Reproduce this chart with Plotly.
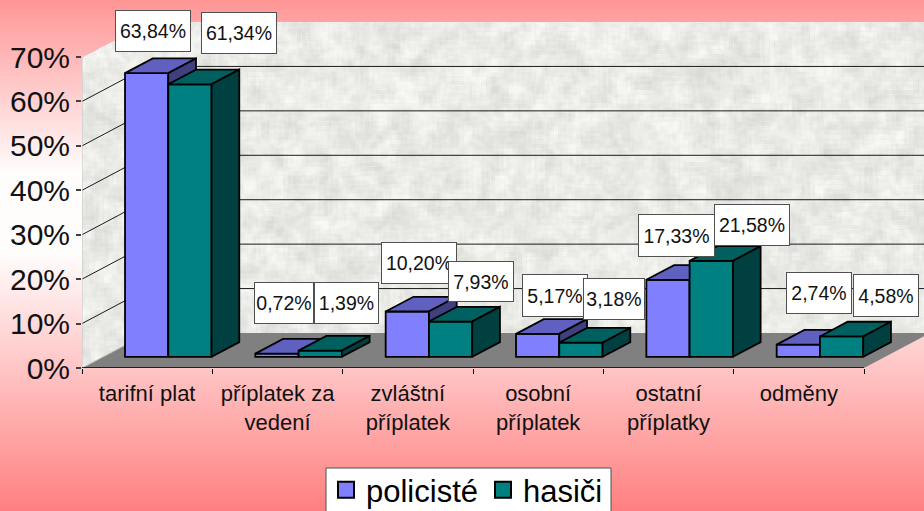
import base64, struct, zlib
import numpy as np
import plotly.graph_objects as go

categories = ["tarifní plat", "příplatek za<br>vedení", "zvláštní<br>příplatek",
              "osobní<br>příplatek", "ostatní<br>příplatky", "odměny"]
policiste = [63.84, 0.72, 10.20, 5.17, 17.33, 2.74]
hasici = [61.34, 1.39, 7.93, 3.18, 21.58, 4.58]
y_ticks = [0, 10, 20, 30, 40, 50, 60, 70]

W, H = 924, 511
L, R, T, B = 82, 864, 57, 368
PX_X = (R - L) / 6.0
PX_Y = (B - T) / 70.0
WALL_DX, WALL_DY = 66 / PX_X, 35 / PX_Y
F0 = 0.32
FD = 0.42
BAR_W = 0.332
FONT = "Liberation Sans"
X_MAX = (W - L) / PX_X - 0.5   # plot area runs to the right page edge


def background_png():
    yy, xx = np.mgrid[0:H, 0:W].astype(float)
    stops_y = [0, 170, 255, 511]
    stops_g = [150, 252, 252, 128]
    g = np.interp(yy, stops_y, stops_g)
    img = np.stack([np.full_like(g, 255.0), g, g], axis=-1)

    def hash_noise(cell):
        cy, cx = np.floor(yy / cell), np.floor(xx / cell)
        n = np.sin(cx * 12.9898 + cy * 78.233) * 43758.5453
        n = n - np.floor(n)
        for axis in (0, 1):
            n = (n + np.roll(n, cell // 2 + 1, axis) + np.roll(n, -(cell // 2 + 1), axis)) / 3
        return n - 0.5

    tex = 234 + 30 * hash_noise(9) + 22 * hash_noise(3)
    tex = np.clip(tex, 205, 248)
    px0, px1 = L, L + 66
    top_edge = T - (xx - px0) * 35 / 66
    bot_edge = B - (xx - px0) * 35 / 66
    left_wall = (xx >= px0) & (xx < px1) & (yy >= top_edge) & (yy <= bot_edge)
    back_wall = (xx >= px1) & (yy >= T - 35) & (yy <= B - 35)
    mask = left_wall | back_wall
    for i, shade in enumerate((tex, tex, tex * 0.985)):
        img[..., i][mask] = shade[mask]
    arr = np.clip(img, 0, 255).astype(np.uint8)
    raw = b"".join(b"\x00" + arr[r].tobytes() for r in range(H))

    def chunk(tag, data):
        return (struct.pack(">I", len(data)) + tag + data +
                struct.pack(">I", zlib.crc32(tag + data) & 0xFFFFFFFF))

    png = (b"\x89PNG\r\n\x1a\n" + chunk(b"IHDR", struct.pack(">IIBBBBB", W, H, 8, 2, 0, 0, 0)) +
           chunk(b"IDAT", zlib.compress(raw, 9)) + chunk(b"IEND", b""))
    return "data:image/png;base64," + base64.b64encode(png).decode()


def poly(pts):
    return [p[0] for p in pts] + [None], [p[1] for p in pts] + [None]


def merged(polys):
    xs, ys = [], []
    for pts in polys:
        a, b = poly(pts + [pts[0]])
        xs += a
        ys += b
    return xs, ys


def faces(values, series_index):
    tops, sides = [], []
    fx, fy = F0 * WALL_DX, F0 * WALL_DY
    dx, dy = FD * WALL_DX, FD * WALL_DY
    for c, v in enumerate(values):
        x0 = c + fx - BAR_W + series_index * BAR_W
        x1 = x0 + BAR_W
        y0, y1 = fy, fy + v
        tops.append([(x0, y1), (x1, y1), (x1 + dx, y1 + dy), (x0 + dx, y1 + dy)])
        sides.append([(x1, y0), (x1 + dx, y0 + dy), (x1 + dx, y1 + dy), (x1, y1)])
    return tops, sides


fig = go.Figure()
back_x0, back_x1 = -0.5 + WALL_DX, 5.5 + WALL_DX

# floor
fx, fy = merged([[(-0.5, 0), (5.5, 0), (back_x1, WALL_DY), (back_x0, WALL_DY)]])
fig.add_trace(go.Scatter(x=fx, y=fy, mode="lines", fill="toself", fillcolor="#808080",
                         line=dict(color="#808080", width=0), cliponaxis=False,
                         hoverinfo="skip", showlegend=False))

# gridlines on the walls
gx, gy = [], []
for t in y_ticks[1:-1]:
    gx += [-0.5, back_x0, back_x1, None]
    gy += [t, t + WALL_DY, t + WALL_DY, None]
fig.add_trace(go.Scatter(x=gx, y=gy, mode="lines", line=dict(color="#1a1a1a", width=1),
                         cliponaxis=False, hoverinfo="skip", showlegend=False))
# wall rim
rim_top = y_ticks[-1]
fig.add_trace(go.Scatter(
    x=[-0.5, -0.5, back_x0, None, -0.5, back_x0],
    y=[0, rim_top, rim_top + WALL_DY, None, 0, WALL_DY],
    mode="lines", line=dict(color="#c4c4c4", width=1), cliponaxis=False,
    hoverinfo="skip", showlegend=False))
fig.add_trace(go.Scatter(
    x=[back_x0, back_x1], y=[rim_top + WALL_DY, rim_top + WALL_DY],
    mode="lines", line=dict(color="#555555", width=1), cliponaxis=False,
    hoverinfo="skip", showlegend=False))
# front floor edge (x-axis line)
fig.add_trace(go.Scatter(x=[-0.5, 5.5], y=[0, 0], mode="lines",
                         line=dict(color="#000000", width=1.5), cliponaxis=False,
                         hoverinfo="skip", showlegend=False))

styles = [("policisté", policiste, "#8080FF", "#6060C0", "#404080", 1),
          ("hasiči", hasici, "#008080", "#006060", "#004040", 2)]
EDGE = dict(color="#000000", width=1.8)
for idx, (name, vals, front, top, side, z) in enumerate(styles):
    xpos = [c + F0 * WALL_DX - BAR_W / 2 + idx * BAR_W for c in range(len(vals))]
    fig.add_trace(go.Bar(x=xpos, y=vals, base=[F0 * WALL_DY] * len(vals), width=BAR_W,
                         marker=dict(color=front, line=EDGE), name=name, zorder=z,
                         cliponaxis=False, showlegend=False,
                         hovertemplate=name + ": %{y:.2f}%<extra></extra>"))
    tops, sides = faces(vals, idx)
    for polys, colour in ((tops, top), (sides, side)):
        px, py = merged(polys)
        fig.add_trace(go.Scatter(x=px, y=py, mode="lines", fill="toself", fillcolor=colour,
                                 line=EDGE, zorder=z, cliponaxis=False,
                                 hoverinfo="skip", showlegend=False))
    fig.add_trace(go.Scatter(x=[None], y=[None], mode="markers", name=name, xaxis="x2",
                             marker=dict(symbol="square", size=16, color=front,
                                         line=dict(color="#000000", width=2))))

fmt = lambda v: f"{v:.2f}".replace(".", ",") + "%"
label_text = [fmt(v) for pair in zip(policiste, hasici) for v in pair]
label_boxes = [(115, 191, 10, 52), (201, 277, 12, 54), (254, 314, 282, 324), (314, 379, 282, 324),
               (381, 457, 242, 284), (448, 514, 261, 302), (522, 588, 274, 317), (583, 645, 278, 320),
               (638, 715, 214, 257), (714, 790, 204, 246), (786, 852, 272, 314), (853, 919, 274, 317)]
PW = W - L
annotations = []
for text, (x0, x1, y0, y1) in zip(label_text, label_boxes):
    annotations.append(dict(text=text, xref="paper", yref="paper",
                            x=((x0 + x1) / 2 - L) / PW, y=(B - (y0 + y1) / 2) / (B - T),
                            xanchor="center", yanchor="middle", showarrow=False,
                            width=x1 - x0 - 2, height=y1 - y0 - 2, borderpad=0,
                            bgcolor="#FFFFFF", bordercolor="#505050", borderwidth=1,
                            font=dict(family=FONT, size=19.5, color="#111111")))

legend_box = dict(type="rect", xref="paper", yref="paper", layer="above",
                  x0=(326 - L) / PW, x1=(611 - L) / PW,
                  y0=(B - 513) / (B - T), y1=(B - 468) / (B - T),
                  fillcolor="#FFFFFF", line=dict(color="#505050", width=1))

fig.update_layout(
    width=W, height=H, autosize=False,
    margin=dict(l=L, r=0, t=T, b=H - B, autoexpand=False),
    paper_bgcolor="rgba(0,0,0,0)", plot_bgcolor="rgba(0,0,0,0)",
    barmode="overlay", annotations=annotations, shapes=[legend_box],
    images=[dict(source=background_png(), xref="paper", yref="paper", layer="below",
                 x=-L / PW, y=B / (B - T), sizex=W / PW, sizey=H / (B - T),
                 sizing="stretch", xanchor="left", yanchor="top")],
    xaxis=dict(range=[-0.5, X_MAX], tickmode="array", tickvals=[i - 0.5 for i in range(7)],
               ticktext=[""] * 7, ticks="outside", ticklen=5, tickwidth=1, tickcolor="#000000",
               showline=False, showgrid=False, zeroline=False),
    xaxis2=dict(range=[-0.5, X_MAX], overlaying="x", side="bottom", tickmode="array",
                tickvals=list(range(6)), ticktext=categories, ticks="", showgrid=False,
                zeroline=False, showline=False, tickangle=0, ticklabelstandoff=10,
                tickfont=dict(family=FONT, size=22, color="#111111")),
    yaxis=dict(range=[0, 70], tickmode="array", tickvals=y_ticks, ticktext=[f"{t}%" for t in y_ticks],
               ticks="outside", ticklen=5, tickwidth=1.5, tickcolor="#404040",
               showline=True, linecolor="#a0a0a0", linewidth=1, showgrid=False, zeroline=False,
               tickfont=dict(family=FONT, size=30, color="#111111")),
    legend=dict(orientation="h", xref="paper", yref="paper", x=(326 - L) / PW,
                y=(B - 463) / (B - T), xanchor="left", yanchor="top",
                bgcolor="rgba(0,0,0,0)", borderwidth=0, traceorder="normal",
                font=dict(family=FONT, size=31, color="#000000")),
    hovermode="closest",
)
fig.write_html("out.html", config={"displayModeBar": False},
               post_script="document.body.style.margin='0';document.body.style.overflow='hidden';")
